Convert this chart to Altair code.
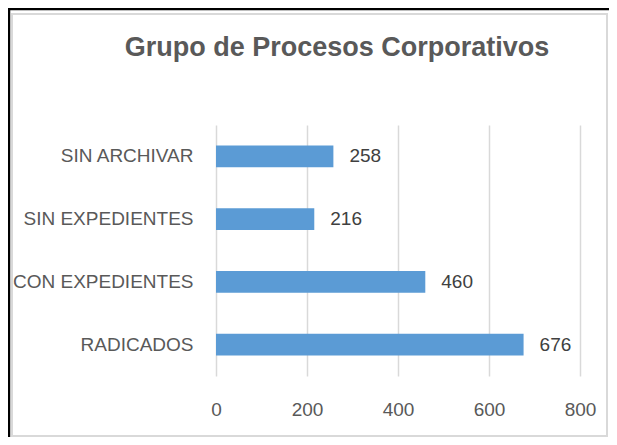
import altair as alt
import pandas as pd

categories = ["SIN ARCHIVAR", "SIN EXPEDIENTES", "CON EXPEDIENTES", "RADICADOS"]
values = [258, 216, 460, 676]
x_ticks = [0, 200, 400, 600, 800]
title_text = "Grupo de Procesos Corporativos"

df = pd.DataFrame({"cat": categories, "val": values})
one = pd.DataFrame({"t": [title_text]})

FONT = "Liberation Sans"
TXT = "#595959"

y_enc = alt.Y("cat:N", sort=categories, title=None,
              scale=alt.Scale(paddingInner=0.65, paddingOuter=0.325),
              axis=alt.Axis(ticks=False, tickSize=0, domain=False, grid=False,
                            labelPadding=23, labelFont=FONT, labelFontSize=19,
                            labelColor=TXT, labelLimit=300))
x_enc = alt.X("val:Q", title=None,
              scale=alt.Scale(domain=[0, 800], nice=False),
              axis=alt.Axis(values=x_ticks, ticks=False, tickSize=0, domain=False,
                            grid=True, gridColor="#d9d9d9", gridWidth=1.5,
                            labelFlush=False,
                            labelPadding=24, labelFont=FONT, labelFontSize=19,
                            labelColor=TXT))

bars = alt.Chart(df).mark_bar(color="#5B9BD5").encode(x=x_enc, y=y_enc)
labels = alt.Chart(df).mark_text(align="left", dx=16, font=FONT, fontSize=19,
                                 color="#404040").encode(
    x=alt.X("val:Q"), y=alt.Y("cat:N", sort=categories), text="val:Q")

title = alt.Chart(one).mark_text(align="center", baseline="alphabetic", font=FONT,
                                 fontSize=27, fontWeight="bold", color=TXT).encode(
    x=alt.value(121), y=alt.value(-69), text="t:N")

frame = alt.Chart(one).mark_rect(fill=None, stroke="#d9d9d9", strokeWidth=2).encode(
    x=alt.value(-204), x2=alt.value(391), y=alt.value(-111), y2=alt.value(311))
top_line = alt.Chart(one).mark_rule(color="black", strokeWidth=2.5).encode(
    x=alt.value(-208), x2=alt.value(401), y=alt.value(-116))
left_line = alt.Chart(one).mark_rule(color="black", strokeWidth=2.5).encode(
    x=alt.value(-207), y=alt.value(-117), y2=alt.value(320))

chart = alt.layer(frame, top_line, left_line, bars, labels, title).properties(
    width=364, height=251,
    autosize=alt.AutoSizeParams(type="none"),
    padding={"left": 208, "top": 117, "right": 29, "bottom": 61},
).configure_view(stroke=None)

chart.save("out.html", embed_options={"renderer": "svg", "actions": False})
